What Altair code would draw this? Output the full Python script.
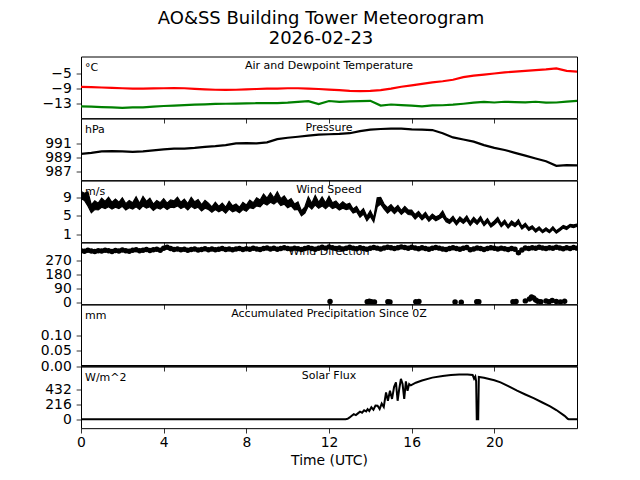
import altair as alt
import pandas as pd

FONT = "DejaVu Sans"
W = 496
H = 61.67

# ---------------- data ----------------
hours_30 = [i * 0.5 for i in range(49)]
air_temp = [-8.5, -8.6, -8.7, -8.8, -8.9, -9.0, -9.0, -8.95, -8.9, -8.85, -8.9, -9.05,
            -9.2, -9.3, -9.35, -9.3, -9.2, -9.1, -9.0, -9.0, -8.9, -8.9, -9.0, -9.1,
            -9.25, -9.4, -9.6, -9.7, -9.6, -9.4, -9.0, -8.5, -8.1, -7.7, -7.3, -7.0,
            -6.6, -5.9, -5.5, -5.2, -4.9, -4.6, -4.4, -4.2, -4.0, -3.8, -3.5, -4.2, -4.4]
dew_point = [-13.8, -13.9, -14.0, -14.1, -14.2, -14.1, -14.05, -13.9, -13.7, -13.6, -13.45, -13.35,
             -13.25, -13.15, -13.1, -13.05, -13.0, -12.95, -12.9, -12.9, -12.8, -12.6, -12.4, -13.2,
             -12.35, -12.6, -12.45, -12.4, -12.3, -13.6, -13.3, -13.45, -13.6, -13.8, -13.55, -13.5,
             -13.35, -13.1, -12.8, -12.6, -12.75, -12.55, -12.65, -12.7, -12.55, -12.8, -12.75, -12.5, -12.3]
pressure = [989.45, 989.6, 989.8, 989.85, 989.8, 989.75, 989.8, 989.95, 990.1, 990.2, 990.2, 990.3,
            990.45, 990.55, 990.7, 990.95, 991.0, 990.95, 991.1, 991.55, 991.75, 991.9, 992.05, 992.2,
            992.25, 992.3, 992.4, 992.7, 992.9, 993.0, 993.05, 993.05, 992.95, 992.9, 992.85, 992.4,
            991.8, 991.5, 991.2, 990.7, 990.3, 990.0, 989.6, 989.2, 988.8, 988.4, 987.75, 987.85, 987.8]

hours_10 = [i / 6 for i in range(145)]
# wind speed: low / high envelope of the gusty trace in each 10-minute slot
wind_lo = [8.8, 8.4, 7.2, 5.7, 6.4, 6.3, 6.9, 6.6, 7.0, 6.5, 6.9, 6.6, 7.1, 6.3, 6.8, 6.5, 7.0, 6.4, 7.2, 6.7, 7.0, 6.2, 6.8, 6.5, 7.0,
           6.4, 6.9, 6.8, 7.2, 6.6, 7.0, 6.3, 7.1, 6.6, 6.9, 6.1, 6.7, 6.4, 5.8, 6.4, 5.9, 6.3, 5.6, 6.5, 5.9, 6.2, 5.7, 6.4, 6.0,
           6.8, 6.6, 7.2, 7.0, 7.8, 7.4, 8.0, 7.6, 8.2, 7.3, 7.6, 6.8, 7.2, 6.3, 6.4, 5.0, 5.6, 7.2, 6.5, 7.4, 6.7, 7.2, 6.6, 7.3,
           6.6, 6.9, 6.3, 6.7, 6.4, 6.6, 5.6, 5.9, 4.7, 5.4, 3.9, 4.9, 3.6, 7.0, 7.6, 6.5, 5.6, 6.3, 5.5, 6.2, 5.3, 6.0, 5.3, 5.2,
           4.3, 5.0, 4.1, 4.8, 3.8, 4.5, 3.9, 4.3, 4.8, 3.7, 3.3, 4.0, 3.0, 3.9, 3.3, 4.0, 2.9, 3.8, 3.1, 4.0, 2.8, 3.6, 2.5, 3.1,
           3.8, 2.6, 3.3, 2.3, 3.1, 2.6, 3.3, 2.1, 2.7, 1.8, 2.2, 1.4, 2.0, 1.3, 1.8, 1.3, 2.0, 1.2, 1.7, 2.3, 2.0, 2.6, 2.4, 2.7]
wind_hi = [10.4, 10.0, 10.3, 7.4, 8.3, 7.8, 8.9, 8.2, 9.1, 8.0, 8.7, 8.0, 9.0, 7.7, 8.4, 7.9, 9.2, 7.8, 9.3, 8.2, 8.9, 7.6, 8.4, 7.9, 8.8,
           7.8, 8.5, 8.3, 9.1, 8.0, 8.7, 7.7, 9.1, 8.1, 8.6, 7.5, 8.4, 7.8, 7.0, 8.0, 7.1, 7.8, 6.9, 8.2, 7.2, 7.6, 6.9, 8.0, 7.4,
           8.5, 7.9, 9.0, 8.5, 9.8, 8.9, 10.1, 9.0, 10.3, 8.8, 9.4, 8.3, 8.8, 7.6, 8.1, 6.1, 7.0, 9.2, 7.8, 9.5, 8.0, 9.2, 7.9, 9.3,
           7.9, 8.3, 7.4, 8.1, 7.5, 7.8, 6.5, 7.1, 5.8, 6.6, 4.9, 6.2, 4.6, 9.0, 9.1, 7.6, 6.8, 7.5, 6.6, 7.3, 6.2, 7.1, 6.3, 6.3,
           5.3, 6.0, 5.0, 5.8, 4.6, 5.4, 4.8, 5.1, 6.1, 4.6, 4.1, 4.9, 3.8, 4.8, 4.1, 5.0, 3.7, 4.7, 3.9, 4.9, 3.5, 4.4, 3.2, 3.9,
           4.7, 3.3, 4.1, 2.9, 3.9, 3.3, 4.2, 2.7, 3.4, 2.4, 2.8, 2.0, 2.6, 1.8, 2.4, 1.8, 2.6, 1.7, 2.3, 2.9, 2.6, 3.1, 3.0, 3.2]
wind_dir = [330, 327, 333, 329, 325, 331, 328, 334, 330, 326, 332, 329, 335, 331, 327, 333, 336, 330, 334, 338, 332, 336, 340, 334, 346,
            352, 344, 338, 342, 336, 340, 334, 338, 342, 335, 339, 343, 337, 341, 336, 340, 344, 338, 342, 337, 341, 345, 339, 343,
            340, 346, 342, 338, 344, 348, 342, 346, 340, 344, 350, 345, 341, 347, 343, 339, 345, 349, 344, 340, 346, 352, 347, 355,
            350, 344, 348, 342, 346, 352, 347, 343, 349, 345, 340, 346, 351, 347, 342, 348, 353, 349, 344, 350, 355, 351, 346, 352,
            348, 343, 349, 345, 340, 346, 351, 347, 342, 338, 344, 349, 345, 340, 346, 351, 336, 342, 348, 344, 339, 345, 350, 346,
            341, 347, 343, 338, 344, 340, 318, 335, 348, 344, 350, 346, 352, 348, 344, 350, 346, 352, 348, 343, 349, 345, 351, 347]
wrap_hours = [12.05, 13.85, 13.95, 14.05, 14.2, 14.85, 14.95, 16.2, 16.35, 18.1, 18.4, 19.15, 19.25, 20.9,
              21.05, 21.5, 21.7, 21.8, 21.9, 22.0, 22.1, 22.25, 22.5, 22.65, 22.8, 23.0, 23.2, 23.4]
wrap_dirs = [6, 4, 7, 5, 3, 5, 3, 4, 6, 3, 2, 5, 4, 4, 6, 10, 22, 35, 28, 15, 8, 5, 9, 4, 12, 6, 3, 8]

precip_hours = [0.0, 24.0]
precip_mm = [0.0, 0.0]

solar_hours = [0, 12.8, 12.9, 13.0, 13.1, 13.2, 13.3, 13.4, 13.5, 13.6, 13.7, 13.8, 13.87, 13.95, 14.05, 14.15,
               14.25, 14.35, 14.45, 14.55, 14.65, 14.76, 14.85, 14.95, 15.05, 15.15, 15.24, 15.32, 15.4, 15.48,
               15.56, 15.64, 15.72, 15.8, 15.88, 15.96, 16.2, 16.5, 17.0, 17.5, 17.9, 18.3, 18.7, 18.95, 19.02,
               19.08, 19.12, 19.15, 19.22, 19.25, 19.5, 20.0, 20.3, 20.7, 21.1, 21.5, 21.9, 22.3, 22.7, 23.0,
               23.4, 23.55, 23.6, 24.0]
solar_flux = [0, 0, 5, 25, 50, 74, 60, 85, 110, 95, 130, 115, 149, 120, 175, 140,
              200, 198, 150, 230, 180, 396, 272, 420, 300, 480, 545, 272, 450, 596,
              520, 300, 560, 420, 521, 500, 540, 572, 615, 640, 655, 662, 662, 655, 600,
              630, 560, 0, 0, 625, 612, 575, 545, 485, 421, 365, 310, 250, 188, 135,
              49, 5, 0, 0]

x_ticks = [0, 4, 8, 12, 16, 20]

# ---------------- helpers ----------------
xscale = alt.Scale(domain=[0, 24], nice=False, zero=False)
MINUS = "replace(datum.label, '-', '\u2212')"


def xenc(last):
    if last:
        ax = alt.Axis(values=x_ticks, title="Time (UTC)", labels=True, format="d",
                      labelFlush=False, labelPadding=2.5, titlePadding=4)
    else:
        ax = alt.Axis(values=x_ticks, title=None, labels=False)
    return alt.X("hour:Q", scale=xscale, axis=ax)


def yscale(domain):
    return alt.Scale(domain=domain, nice=False, zero=False)


def yaxis(ticks, fmt="d"):
    return alt.Axis(values=ticks, title=None, format=fmt, labelExpr=MINUS)


def yenc(domain, ticks, fmt="d", field="value"):
    return alt.Y(f"{field}:Q", scale=yscale(domain), axis=yaxis(ticks, fmt))


def labels(unit, title):
    d = pd.DataFrame({"u": [unit], "t": [title]})
    u = alt.Chart(d).mark_text(align="left", baseline="alphabetic", font=FONT, fontSize=11,
                               color="black").encode(x=alt.value(4), y=alt.value(14.5), text="u:N")
    t = alt.Chart(d).mark_text(align="center", baseline="alphabetic", font=FONT, fontSize=11,
                               color="black").encode(x=alt.value(W / 2), y=alt.value(12.8), text="t:N")
    return [u, t]


# Temperature
df_air = pd.DataFrame({"hour": hours_30, "value": air_temp})
df_dew = pd.DataFrame({"hour": hours_30, "value": dew_point})
t_dom, t_ticks = [-17, -0.3], [-13, -9, -5]
p1 = alt.layer(
    *labels("°C", "Air and Dewpoint Temperature"),
    alt.Chart(df_air).mark_line(color="#ff0000", strokeWidth=2.2, clip=True).encode(x=xenc(False), y=yenc(t_dom, t_ticks)),
    alt.Chart(df_dew).mark_line(color="#008000", strokeWidth=2.2, clip=True).encode(x=xenc(False), y=yenc(t_dom, t_ticks)),
).properties(width=W, height=H)

# Pressure
df_p = pd.DataFrame({"hour": hours_30, "value": pressure})
p2 = alt.layer(
    *labels("hPa", "Pressure"),
    alt.Chart(df_p).mark_line(color="black", strokeWidth=2.2, clip=True).encode(
        x=xenc(False), y=yenc([985.7, 994.5], [987, 989, 991])),
).properties(width=W, height=H)

# Wind speed (gust envelope)
df_ws = pd.DataFrame({"hour": hours_10, "lo": wind_lo, "hi": wind_hi})
ws_dom = [-0.8, 12.8]
p3 = alt.layer(
    *labels("m/s", "Wind Speed"),
    alt.Chart(df_ws).mark_area(color="black", stroke="black", strokeWidth=1.2, opacity=1, clip=True).encode(
        x=xenc(False), y=yenc(ws_dom, [1, 5, 9], field="lo"), y2="hi:Q"),
).properties(width=W, height=H)

# Wind direction
df_wd = pd.DataFrame({"hour": hours_10 + wrap_hours, "value": wind_dir + wrap_dirs})
p4 = alt.layer(
    *labels("", "Wind Direction"),
    alt.Chart(df_wd).mark_circle(color="black", size=30, opacity=1, clip=True).encode(
        x=xenc(False), y=yenc([-11, 383], [0, 90, 180, 270])),
).properties(width=W, height=H)

# Precipitation
df_pr = pd.DataFrame({"hour": precip_hours, "value": precip_mm})
p5 = alt.layer(
    *labels("mm", "Accumulated Precipitation Since 0Z"),
    alt.Chart(df_pr).mark_line(color="black", strokeWidth=2.5, clip=True).encode(
        x=xenc(False), y=yenc([0, 0.2], [0, 0.05, 0.10], ".2f")),
).properties(width=W, height=H)

# Solar
df_s = pd.DataFrame({"hour": solar_hours, "value": solar_flux})
p6 = alt.layer(
    *labels("W/m^2", "Solar Flux"),
    alt.Chart(df_s).mark_line(color="black", strokeWidth=2, clip=True).encode(
        x=xenc(True), y=yenc([-134, 780], [0, 216, 432])),
).properties(width=W, height=H)

chart = alt.vconcat(p1, p2, p3, p4, p5, p6, spacing=0, bounds="flush").properties(
    title=alt.TitleParams(
        text=["AO&SS Building Tower Meteorogram", "2026-02-23"],
        font=FONT, fontSize=18, fontWeight="normal", color="black",
        anchor="middle", lineHeight=20, frame="group", dx=-8, offset=8,
    ),
    padding={"left": 31, "top": 1.5, "right": 10, "bottom": 5},
).configure_view(
    stroke="black", strokeWidth=1
).configure_axis(
    labelFont=FONT, labelFontSize=13.9, labelColor="black",
    tickColor="black", tickWidth=0.8, tickSize=4.86, labelPadding=4.86,
    domain=False, grid=False,
    titleFont=FONT, titleFontSize=13.9, titleColor="black", titleFontWeight="normal",
)

chart.save("out.html", embed_options={"renderer": "svg", "actions": False})
